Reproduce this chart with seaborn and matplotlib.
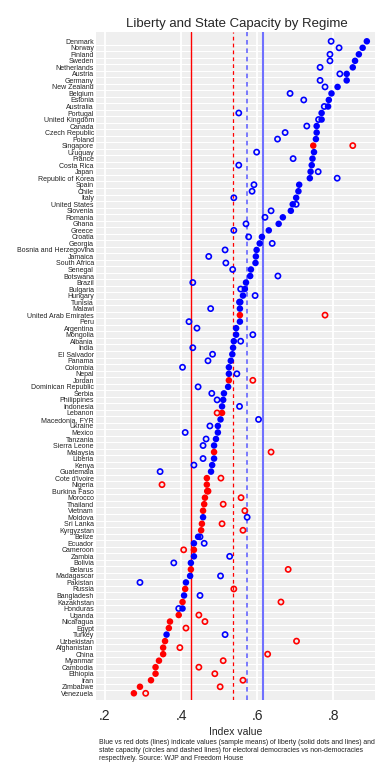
import pandas as pd
import matplotlib
matplotlib.use("Agg")
import matplotlib.pyplot as plt
import seaborn as sns

# countries, top to bottom
countries = [
    "Denmark", "Norway", "Finland", "Sweden", "Netherlands", "Austria", "Germany",
    "New Zealand", "Belgium", "Estonia", "Australia", "Portugal", "United Kingdom",
    "Canada", "Czech Republic", "Poland", "Singapore", "Uruguay", "France",
    "Costa Rica", "Japan", "Republic of Korea", "Spain", "Chile", "Italy",
    "United States", "Slovenia", "Romania", "Ghana", "Greece", "Croatia", "Georgia",
    "Bosnia and Herzegovina", "Jamaica", "South Africa", "Senegal", "Botswana",
    "Brazil", "Bulgaria", "Hungary", "Tunisia", "Malawi", "United Arab Emirates",
    "Peru", "Argentina", "Mongolia", "Albania", "India", "El Salvador", "Panama",
    "Colombia", "Nepal", "Jordan", "Dominican Republic", "Serbia", "Philippines",
    "Indonesia", "Lebanon", "Macedonia, FYR", "Ukraine", "Mexico", "Tanzania",
    "Sierra Leone", "Malaysia", "Liberia", "Kenya", "Guatemala", "Cote d'Ivoire",
    "Nigeria", "Burkina Faso", "Morocco", "Thailand", "Vietnam", "Moldova",
    "Sri Lanka", "Kyrgyzstan", "Belize", "Ecuador", "Cameroon", "Zambia", "Bolivia",
    "Belarus", "Madagascar", "Pakistan", "Russia", "Bangladesh", "Kazakhstan",
    "Honduras", "Uganda", "Nicaragua", "Egypt", "Turkey", "Uzbekistan",
    "Afghanistan", "China", "Myanmar", "Cambodia", "Ethiopia", "Iran", "Zimbabwe",
    "Venezuela",
]

# liberty index (solid dots)
liberty = [
    0.889, 0.878, 0.868, 0.858, 0.852, 0.836, 0.836, 0.812, 0.796, 0.789, 0.787,
    0.770, 0.770, 0.757, 0.757, 0.755, 0.748, 0.750, 0.746, 0.744, 0.741, 0.739,
    0.711, 0.709, 0.703, 0.694, 0.689, 0.668, 0.657, 0.631, 0.613, 0.607, 0.599,
    0.597, 0.596, 0.584, 0.582, 0.571, 0.568, 0.563, 0.556, 0.555, 0.555, 0.555,
    0.545, 0.545, 0.539, 0.537, 0.535, 0.531, 0.526, 0.526, 0.526, 0.524, 0.513,
    0.511, 0.508, 0.508, 0.504, 0.497, 0.497, 0.492, 0.487, 0.487, 0.487, 0.482,
    0.479, 0.468, 0.468, 0.469, 0.463, 0.461, 0.458, 0.458, 0.455, 0.453, 0.445,
    0.434, 0.434, 0.434, 0.426, 0.426, 0.424, 0.413, 0.411, 0.408, 0.404, 0.404,
    0.394, 0.371, 0.368, 0.362, 0.358, 0.353, 0.353, 0.342, 0.333, 0.333, 0.321,
    0.292, 0.276,
]

# state capacity index (hollow circles)
capacity = [
    0.795, 0.816, 0.792, 0.792, 0.766, 0.818, 0.766, 0.779, 0.687, 0.723, 0.777,
    0.552, 0.762, 0.731, 0.674, 0.654, 0.852, 0.599, 0.695, 0.552, 0.761, 0.811,
    0.592, 0.587, 0.539, 0.703, 0.637, 0.621, 0.571, 0.539, 0.578, 0.640, 0.516,
    0.473, 0.518, 0.536, 0.655, 0.431, 0.557, 0.595, 0.554, 0.478, 0.779, 0.421,
    0.442, 0.589, 0.557, 0.431, 0.483, 0.471, 0.404, 0.547, 0.589, 0.445, 0.481,
    0.495, 0.554, 0.495, 0.604, 0.476, 0.411, 0.466, 0.458, 0.637, 0.458, 0.434,
    0.345, 0.505, 0.350, 0.471, 0.558, 0.511, 0.568, 0.574, 0.508, 0.563, 0.450,
    0.461, 0.407, 0.528, 0.381, 0.682, 0.504, 0.292, 0.539, 0.450, 0.663, 0.394,
    0.447, 0.463, 0.413, 0.516, 0.704, 0.397, 0.628, 0.511, 0.447, 0.489, 0.563,
    0.503, 0.307,
]

non_democracies = [
    "Singapore", "United Arab Emirates", "Jordan", "Lebanon", "Malaysia",
    "Cote d'Ivoire", "Nigeria", "Burkina Faso", "Morocco", "Thailand", "Vietnam",
    "Sri Lanka", "Kyrgyzstan", "Cameroon", "Belarus", "Russia", "Kazakhstan",
    "Uganda", "Nicaragua", "Egypt", "Uzbekistan", "Afghanistan", "China",
    "Myanmar", "Cambodia", "Ethiopia", "Iran", "Zimbabwe", "Venezuela",
]

# sample means shown as vertical lines
liberty_mean = {"dem": 0.616, "non": 0.425}
capacity_mean = {"dem": 0.573, "non": 0.538}

df = pd.DataFrame({"country": countries, "liberty": liberty, "capacity": capacity})
df["pos"] = range(len(df))
df["regime"] = ["non" if c in non_democracies else "dem" for c in df["country"]]
palette = {"dem": "#0000ff", "non": "#ff0000"}

sns.set_style("white")
plt.rcParams["font.family"] = ["Liberation Sans", "DejaVu Sans"]

fig = plt.figure(figsize=(3.9, 7.8), dpi=100)
ax = fig.add_axes([96 / 390, 1 - 700 / 780, 279 / 390, 668.3 / 780])
ax.set_facecolor("#efefef")

# grid
for x in [0.2, 0.4, 0.6, 0.8]:
    ax.axvline(x, color="white", lw=1.3, zorder=0)
for i in range(len(df) - 1):
    ax.axhline(i + 0.5, color="white", lw=0.8, zorder=0)

# mean lines
ax.axvline(liberty_mean["non"], color="#ff0000", lw=1.0, zorder=1)
ax.axvline(capacity_mean["non"], color="#ff0000", lw=0.9, ls=(0, (3, 2.5)), zorder=1)
ax.axvline(capacity_mean["dem"], color="#5a5aff", lw=1.1, ls=(0, (3, 2.5)), zorder=1)
ax.axvline(liberty_mean["dem"], color="#7070ff", lw=1.5, zorder=1)

# hollow: state capacity
for reg, col in palette.items():
    sub = df[df["regime"] == reg]
    ax.scatter(sub["capacity"], sub["pos"], s=14, facecolors="none",
               edgecolors=col, linewidths=1.2, zorder=3)

# solid: liberty
sns.scatterplot(data=df, x="liberty", y="pos", hue="regime", palette=palette,
                s=22, linewidth=0, legend=False, ax=ax, zorder=4)

ax.set_xlim(0.1763, 0.9105)
ax.set_ylim(len(df) - 1 + 1.03, -1.47)
ax.set_yticks(df["pos"])
ax.set_yticklabels(df["country"], fontsize=5)
ax.tick_params(axis="y", length=0, pad=1.5, colors="#222222")
ax.set_xticks([0.2, 0.4, 0.6, 0.8])
ax.set_xticklabels([".2", ".4", ".6", ".8"], fontsize=9.5)
ax.tick_params(axis="x", length=3, width=0.8, color="#333333", pad=2)
for s in ax.spines.values():
    s.set_visible(False)
ax.spines["bottom"].set_position(("outward", 1.5))
ax.set_xlabel("Index value", fontsize=7.5, labelpad=3)
ax.set_ylabel("")

fig.text(237 / 390, 1 - 24 / 780, "Liberty and State Capacity by Regime",
         ha="center", va="center", fontsize=9.5)
fig.text(99 / 390, 1 - 739 / 780,
         "Blue vs red dots (lines) indicate values (sample means) of liberty (solid dots and lines) and\n"
         "state capacity (circles and dashed lines) for electoral democracies vs non-democracies\n"
         "respectively. Source: WJP and Freedom House",
         ha="left", va="top", fontsize=4.95, color="#222222", linespacing=1.25)

fig.savefig("out.png", dpi=100)
